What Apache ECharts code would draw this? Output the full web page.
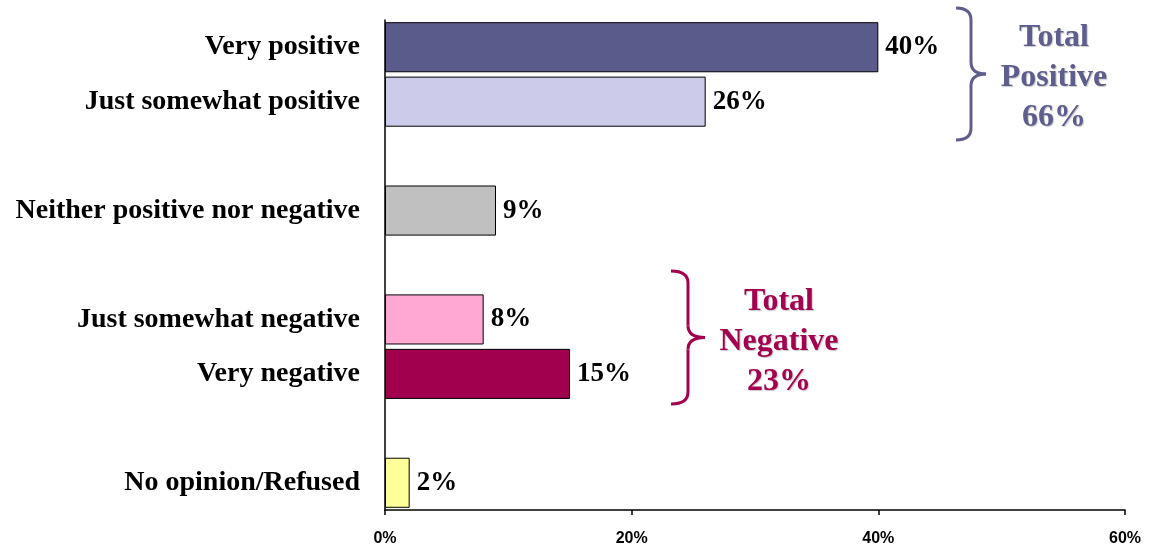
<!DOCTYPE html>
<html>
<head>
<meta charset="utf-8">
<script src="https://cdn.jsdelivr.net/npm/echarts@6/dist/echarts.min.js"></script>
<style>
  html, body { margin: 0; padding: 0; background: #fff; }
  #chart { width: 1152px; height: 550px; }
</style>
</head>
<body>
<div id="chart"></div>
<script>
// Survey responses, top to bottom; empty strings are spacer rows between groups
const categories = [
  'Very positive',
  'Just somewhat positive',
  '',
  'Neither positive nor negative',
  '',
  'Just somewhat negative',
  'Very negative',
  '',
  'No opinion/Refused'
];
const values = [40, 26, null, 9, null, 8, 15, null, 2];
const barColors = ['#5b5b8b', '#ccccea', null, '#c0c0c0', null, '#ffa8d4', '#a0004e', null, '#ffff99'];
const xTicks = [0, 20, 40, 60];

const totalPositive = ['Total', 'Positive', '66%'];
const totalNegative = ['Total', 'Negative', '23%'];

const posColor = '#5e5e8e';
const negColor = '#a3004f';

const serif = '"Liberation Serif", "Times New Roman", serif';

const chart = echarts.init(document.getElementById('chart'));

// Curly brace "}" built from quadratic curves and straight strokes
function brace(x0, x1, yTop, yBottom, color) {
  const mid = (yTop + yBottom) / 2;
  const xm = (x0 + x1) / 2;
  const r = 12;
  const style = { stroke: color, lineWidth: 3, fill: 'none' };
  const curve = (a, b, c) => ({
    type: 'bezierCurve',
    shape: { x1: a[0], y1: a[1], cpx1: b[0], cpy1: b[1], x2: c[0], y2: c[1] },
    style: style
  });
  const line = (a, b) => ({
    type: 'line',
    shape: { x1: a[0], y1: a[1], x2: b[0], y2: b[1] },
    style: style
  });
  return {
    type: 'group',
    children: [
      curve([x0, yTop], [xm, yTop], [xm, yTop + r]),
      line([xm, yTop + r], [xm, mid - r]),
      curve([xm, mid - r], [xm, mid], [x1, mid]),
      curve([x1, mid], [xm, mid], [xm, mid + r]),
      line([xm, mid + r], [xm, yBottom - r]),
      curve([xm, yBottom - r], [xm, yBottom], [x0, yBottom])
    ]
  };
}

function totalText(lines, cx, cy, color) {
  return {
    type: 'text',
    x: cx,
    y: cy,
    style: {
      text: lines.join('\n'),
      font: 'bold 32px ' + serif,
      fill: color,
      align: 'center',
      verticalAlign: 'middle',
      lineHeight: 40,
      textShadowColor: 'rgba(0,0,0,0.22)',
      textShadowOffsetX: 1,
      textShadowOffsetY: 1,
      textShadowBlur: 1
    }
  };
}

chart.setOption({
  animation: false,
  grid: { left: 385, right: 27, top: 20, bottom: 40 },
  xAxis: {
    type: 'value',
    min: 0,
    max: 60,
    interval: 20,
    splitLine: { show: false },
    axisLine: { show: true, lineStyle: { color: '#000', width: 1.5 } },
    axisTick: { show: true, length: 5, lineStyle: { color: '#000', width: 1.5 } },
    axisLabel: {
      formatter: v => xTicks.includes(v) ? v + '%' : '',
      color: '#000',
      fontFamily: '"Liberation Sans", Arial, sans-serif',
      fontWeight: 'bold',
      fontSize: 16,
      margin: 21
    }
  },
  yAxis: {
    type: 'category',
    data: categories,
    inverse: true,
    axisLine: { show: true, lineStyle: { color: '#000', width: 1.5 } },
    axisTick: { show: false },
    axisLabel: {
      color: '#000',
      fontFamily: serif,
      fontWeight: 'bold',
      fontSize: 28,
      margin: 25
    }
  },
  series: [{
    type: 'bar',
    data: values.map((v, i) => v === null ? null : {
      value: v,
      itemStyle: { color: barColors[i] }
    }),
    barCategoryGap: '8%',
    itemStyle: { borderColor: '#000', borderWidth: 1 },
    label: {
      show: true,
      position: 'right',
      distance: 7,
      formatter: '{c}%',
      color: '#000',
      fontFamily: serif,
      fontWeight: 'bold',
      fontSize: 27
    }
  }],
  graphic: [
    brace(956, 986, 8, 140, posColor),
    totalText(totalPositive, 1054, 78, posColor),
    brace(671, 705, 271, 404, negColor),
    totalText(totalNegative, 779, 342, negColor)
  ]
});
</script>
</body>
</html>
